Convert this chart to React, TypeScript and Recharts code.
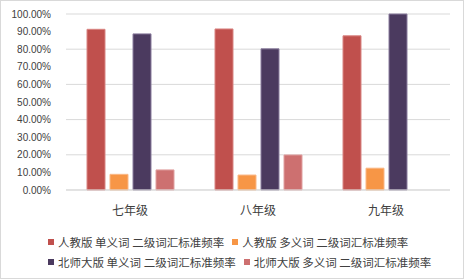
import React from 'react';
import { BarChart, Bar, XAxis, YAxis, CartesianGrid } from 'recharts';

const grades = ['七年级', '八年级', '九年级'];
const seriesNames = [
  '人教版 单义词 二级词汇标准频率',
  '人教版 多义词 二级词汇标准频率',
  '北师大版 单义词 二级词汇标准频率',
  '北师大版 多义词 二级词汇标准频率',
];
const pepSingle = [0.913, 0.915, 0.876];
const pepMulti = [0.089, 0.085, 0.124];
const bnuSingle = [0.887, 0.802, 1.0];
const bnuMulti = [0.114, 0.199, null];
const yTicks = [0, 0.1, 0.2, 0.3, 0.4, 0.5, 0.6, 0.7, 0.8, 0.9, 1.0];

const colors = ['#C0504D', '#F79646', '#4B3A5F', '#CD7070'];
const strokes = ['#D98583', '#FAB785', '#8A7C9E', '#E0A0A0'];
const keys = ['s0', 's1', 's2', 's3'];
const seriesValues = [pepSingle, pepMulti, bnuSingle, bnuMulti];

const data = grades.map((g, i) => {
  const row: any = { grade: g };
  keys.forEach((k, j) => (row[k] = seriesValues[j][i]));
  return row;
});

const font = '"Noto Sans CJK SC", "Liberation Sans", sans-serif';

export default function App() {
  return (
    <div
      style={{
        position: 'fixed',
        left: 0,
        top: 0,
        width: 464,
        height: 279,
        background: '#fff',
        boxSizing: 'border-box',
        border: '1px solid #d9d9d9',
        fontFamily: font,
      }}
    >
      <div style={{ position: 'absolute', left: -1, top: -1 }}>
        <BarChart
          width={464}
          height={279}
          data={data}
          margin={{ top: 14, right: 14, left: 0, bottom: 59 }}
          barSize={18}
          barGap={5}
        >
          <CartesianGrid vertical={false} stroke="#d9d9d9" />
          <XAxis
            dataKey="grade"
            tickLine={false}
            axisLine={{ stroke: '#d9d9d9' }}
            tickMargin={10}
            height={30}
            tick={{ fill: '#404040', fontSize: 12, fontFamily: font }}
          />
          <YAxis
            width={66}
            domain={[0, 1]}
            ticks={yTicks}
            tickLine={false}
            axisLine={false}
            tickMargin={9}
            tickFormatter={(v: number) => (v * 100).toFixed(2) + '%'}
            tick={{ fill: '#404040', fontSize: 10, fontFamily: '"Liberation Sans", sans-serif' }}
          />
          {keys.map((k, j) => (
            <Bar
              key={k}
              dataKey={k}
              name={seriesNames[j]}
              fill={colors[j]}
              stroke={strokes[j]}
              strokeWidth={1}
              isAnimationActive={false}
            />
          ))}
        </BarChart>
      </div>
      <div
        style={{
          position: 'absolute',
          left: 47,
          top: 233,
          width: 412,
          display: 'flex',
          flexWrap: 'wrap',
          rowGap: 4,
          fontSize: 11.5,
          color: '#404040',
          lineHeight: '16px',
        }}
      >
        {seriesNames.map((n, j) => (
          <div
            key={n}
            style={{
              display: 'flex',
              alignItems: 'center',
              whiteSpace: 'nowrap',
              marginRight: 8,
            }}
          >
            <span
              style={{
                display: 'inline-block',
                width: 6,
                height: 6,
                background: colors[j],
                marginRight: 4,
              }}
            />
            {n}
          </div>
        ))}
      </div>
    </div>
  );
}
